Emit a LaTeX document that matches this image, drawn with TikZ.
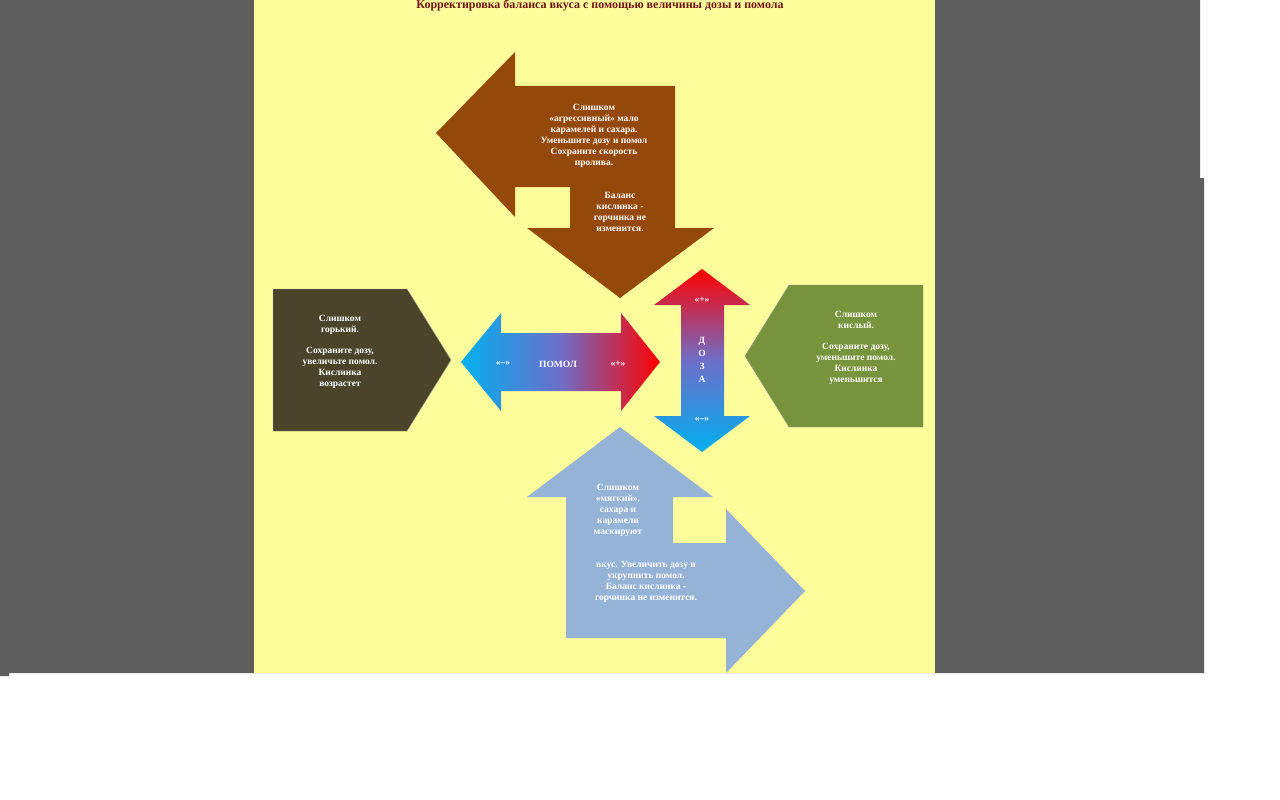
\documentclass[tikz,border=0pt]{standalone}
\usepackage{fontspec}
\setmainfont{Liberation Serif}
\begin{document}
\begin{tikzpicture}[x=1pt,y=-1pt,
  txt/.style={text=white,font=\bfseries\fontsize{9.5}{11}\selectfont,align=center,inner sep=0pt},
  shp/.style={draw=black!40,line width=0.4pt}]
\useasboundingbox (0,0) rectangle (1280,800);
\fill[white] (0,0) rectangle (1280,800);
\fill[black!65!white!98!yellow,fill=gray!20!black!70] (0,0) -- (1200,0) -- (1200,178) -- (1204,178) -- (1204,673) -- (9,673) -- (9,676) -- (0,676) -- cycle;
\fill[fill={rgb,255:red,254;green,253;blue,155}] (254,0) rectangle (935,673);
\node[font=\bfseries\fontsize{12}{14}\selectfont,text={rgb,255:red,110;green,20;blue,20}] (title) at (600,6) {Корректировка баланса вкуса с помощью величины дозы и помола};
% brown bent arrow
\fill[fill={rgb,255:red,148;green,72;blue,10}] (436,133) -- (515,52) -- (515,86) -- (675,86) -- (675,228) -- (714,228) -- (620,298) -- (527,228) -- (570,228) -- (570,187) -- (515,187) -- (515,217) -- cycle;
\node[txt] (t1) at (594,136) {Слишком\\«агрессивный» мало\\карамелей и сахара.\\Уменьшите дозу и помол\\Сохраните скорость\\пролива.};
\node[txt] (t2) at (620,212) {Баланс\\кислинка -\\горчинка не\\изменится.};
% blue-gray bent arrow
\fill[fill={rgb,255:red,149;green,179;blue,215}] (620,427) -- (713,497) -- (673,497) -- (673,543) -- (726,543) -- (726,509) -- (805,591) -- (726,673) -- (726,638) -- (566,638) -- (566,497) -- (527,497) -- cycle;
\node[txt] (t3) at (618,510) {Слишком\\«мягкий»,\\сахара и\\карамели\\маскируют};
\node[txt] (t4) at (646,582) {вкус. Увеличить дозу и\\укрупнить помол.\\Баланс кислинка -\\горчинка не изменится.};
% left pentagon
\fill[shp,fill={rgb,255:red,74;green,68;blue,42}] (273,289) -- (407,289) -- (451,360) -- (407,431) -- (273,431) -- cycle;
\node[txt] (t5) at (340,352) {Слишком\\горький.\\[10pt]Сохраните дозу,\\увеличьте помол.\\Кислинка\\возрастет};
% right pentagon
\fill[shp,fill={rgb,255:red,119;green,147;blue,60}] (923,285) -- (789,285) -- (745,356) -- (789,427) -- (923,427) -- cycle;
\node[txt] (t6) at (856,348) {Слишком\\кислый.\\[10pt]Сохраните дозу,\\уменьшите помол.\\Кислинка\\уменьшится};
% horizontal double arrow
\shade[left color={rgb,255:red,0;green,176;blue,240},right color=red,middle color={rgb,255:red,110;green,110;blue,200}] (461,362) -- (501,313) -- (501,333) -- (621,333) -- (621,313) -- (660,362) -- (621,411) -- (621,391) -- (501,391) -- (501,411) -- cycle;
\node[txt] (h1) at (503,364) {«–»};
\node[txt] (h2) at (558,364) {ПОМОЛ};
\node[txt] (h3) at (618,364) {«+»};
% vertical double arrow
\shade[top color=red,bottom color={rgb,255:red,0;green,176;blue,240},middle color={rgb,255:red,110;green,110;blue,200}] (702,269) -- (750,305) -- (724,305) -- (724,416) -- (750,416) -- (702,452) -- (654,416) -- (681,416) -- (681,305) -- (654,305) -- cycle;
\node[txt] (v1) at (702,300) {«+»};
\node[txt,align=center] (v2) at (702,360) {Д\\[2pt]О\\[2pt]З\\[2pt]А};
\node[txt] (v3) at (702,420) {«–»};
\end{tikzpicture}
\end{document}
